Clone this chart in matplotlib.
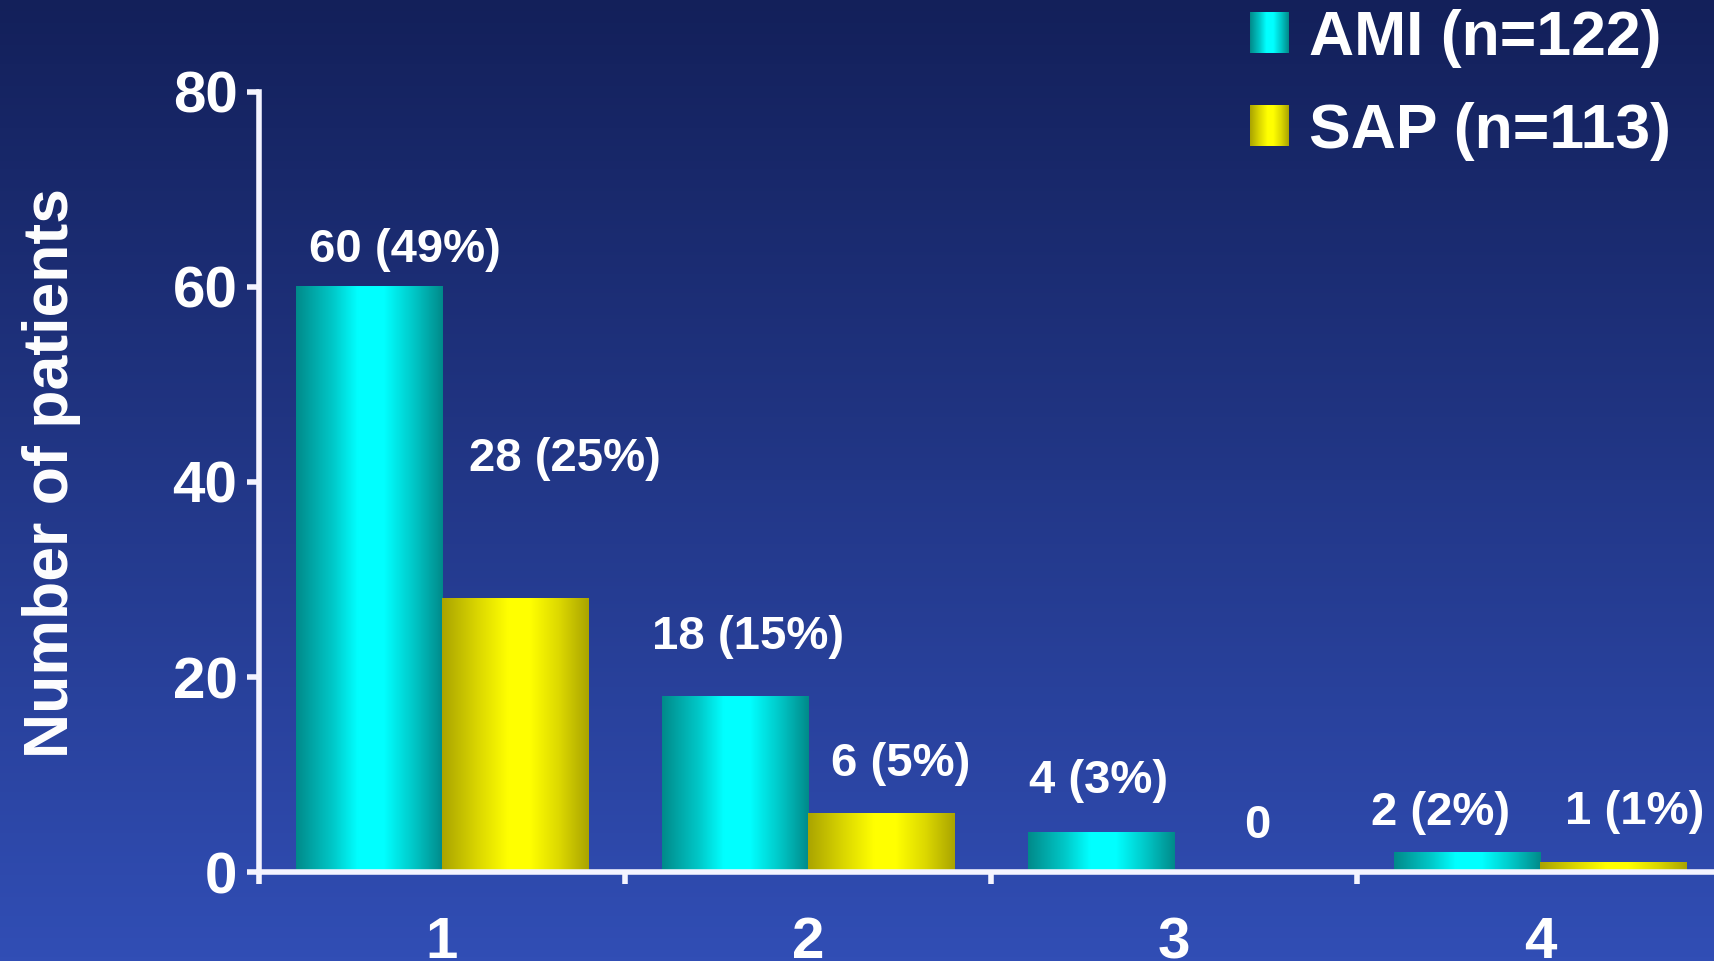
import numpy as np
import matplotlib.pyplot as plt
from matplotlib.colors import LinearSegmentedColormap

# patients per number of diseased vessels
categories = ["1", "2", "3", "4"]
ami_counts = [60, 18, 4, 2]
sap_counts = [28, 6, 0, 1]
ami_total = 122
sap_total = 113

# where each value label sits: x shift and baseline height above the bar top (pixels)
ami_label_dx = [36, 13, -2, -26]
ami_label_dy = [25, 48, 40, 28]
sap_label_dx = [50, 19, 10, 21]
sap_label_dy = [128, 38, 34, 38]

plt.rcParams['font.family'] = ['Liberation Sans', 'DejaVu Sans']
plt.rcParams['font.weight'] = 'bold'

axis_color = '#f4f4ff'

teal = LinearSegmentedColormap.from_list(
    "teal", [(0, "#008a8a"), (0.25, "#00c8c8"), (0.42, "#00ffff"),
             (0.6, "#00ffff"), (0.8, "#00c8c8"), (1, "#008a8a")])
yellow = LinearSegmentedColormap.from_list(
    "yellow", [(0, "#aaa400"), (0.25, "#dcd800"), (0.45, "#ffff00"),
               (0.6, "#ffff00"), (0.8, "#dcd800"), (1, "#aaa400")])
hgrad = np.linspace(0, 1, 256).reshape(1, -1)

fig = plt.figure(figsize=(17.15, 9.61), dpi=100)

# dark-to-light blue background
bg = fig.add_axes([0, 0, 1, 1], zorder=-10)
bg_cmap = LinearSegmentedColormap.from_list("bg", ["#13205a", "#314eb5"])
bg.imshow(np.linspace(0, 1, 256).reshape(-1, 1), aspect='auto', cmap=bg_cmap,
          extent=[0, 1, 0, 1], origin='upper')
bg.axis('off')

ax = fig.add_axes([0.151, 0.0926, 0.849, 0.8117])
ax.set_facecolor('none')

x = np.arange(1, len(categories) + 1)
w = 0.4


def gradient_bars(xs, heights, cmap):
    bars = ax.bar(xs, heights, w, color='none', linewidth=0)
    for bar in bars:
        x0 = bar.get_x()
        h = bar.get_height()
        if h > 0:
            ax.imshow(hgrad, cmap=cmap, aspect='auto',
                      extent=[x0, x0 + bar.get_width(), 0, h], zorder=2)
    return bars


gradient_bars(x - w / 2, ami_counts, teal)
gradient_bars(x + w / 2, sap_counts, yellow)


def value_labels(xs, counts, total, dxs, dys):
    for cx, v, dx, dy in zip(xs, counts, dxs, dys):
        txt = f"{v} ({round(100 * v / total)}%)" if v > 0 else "0"
        ax.annotate(txt, xy=(cx, v), xytext=(dx, dy), textcoords='offset pixels',
                    ha='center', va='baseline', color='white', fontsize=34,
                    fontweight='bold')


value_labels(x - w / 2, ami_counts, ami_total, ami_label_dx, ami_label_dy)
value_labels(x + w / 2, sap_counts, sap_total, sap_label_dx, sap_label_dy)

ax.set_xlim(0.5, 4.478)
ax.set_ylim(0, 80)

for side in ['top', 'right']:
    ax.spines[side].set_visible(False)
for side in ['left', 'bottom']:
    ax.spines[side].set_color(axis_color)
    ax.spines[side].set_linewidth(4)

ax.set_yticks([0, 20, 40, 60, 80])
ax.tick_params(axis='y', direction='out', length=8.5, width=4, color=axis_color,
               labelcolor='white', labelsize=42, pad=7)
ax.set_xticks(x)
ax.set_xticklabels(categories)
ax.set_xticks([0.5, 1.5, 2.5, 3.5], minor=True)
ax.tick_params(axis='x', which='major', length=0, labelcolor='white',
               labelsize=42, pad=32)
ax.tick_params(axis='x', which='minor', direction='out', length=8.5, width=4,
               color=axis_color)

fig.text(68 / 1715, 0.5078, "Number of patients", rotation=90, rotation_mode='anchor',
         ha='center', va='baseline', color='white', fontsize=45, fontweight='bold')

# legend squares with the same shading as the bars
legend_items = [(f"AMI (n={ami_total})", teal, 53), (f"SAP (n={sap_total})", yellow, 146)]
for label, cmap, base_px in legend_items:
    sq = fig.add_axes([1250 / 1715, (961 - base_px) / 961, 39 / 1715, 41 / 961])
    sq.imshow(hgrad, cmap=cmap, aspect='auto')
    sq.axis('off')
    fig.text(1309 / 1715, (961 - base_px - 2) / 961, label, ha='left', va='baseline',
             color='white', fontsize=45, fontweight='bold')

fig.savefig('out.png', dpi=100)
